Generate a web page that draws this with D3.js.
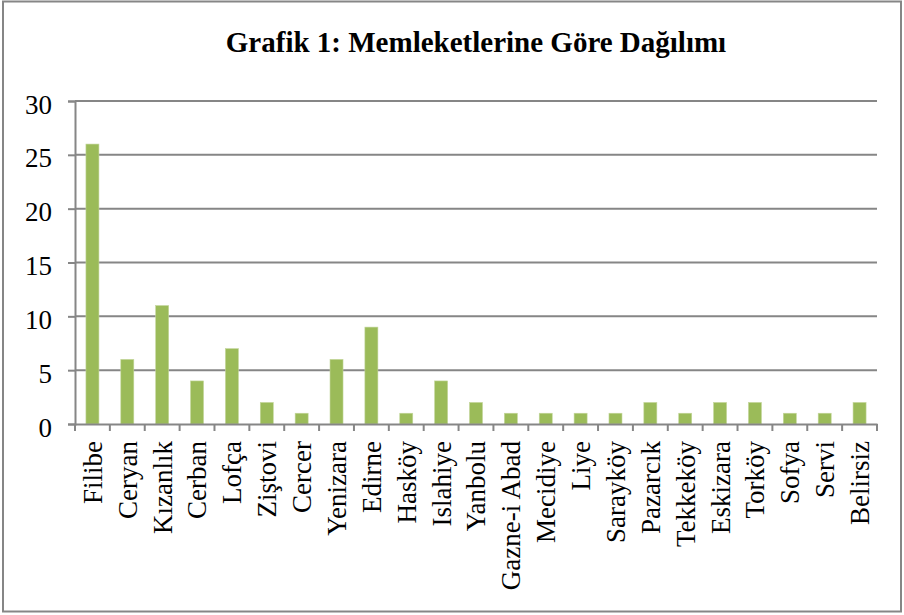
<!DOCTYPE html>
<html>
<head>
<meta charset="utf-8">
<script src="https://cdn.jsdelivr.net/npm/d3@7"></script>
<style>
  body { margin: 0; background: #fff; }
  svg { display: block; }
  text { font-family: "Liberation Serif", "Times New Roman", serif; fill: #000; }
</style>
</head>
<body>
<svg id="chart" width="904" height="615"></svg>
<script>
// Memleketlerine göre dağılım
var categories = ['Filibe', 'Ceryan', 'Kızanlık', 'Cerban', 'Lofça', 'Ziştovi', 'Cercer', 'Yenizara',
    'Edirne', 'Hasköy', 'Islahiye', 'Yanbolu', 'Gazne-i Abad', 'Mecidiye', 'Liye', 'Sarayköy',
    'Pazarcık', 'Tekkeköy', 'Eskizara', 'Torköy', 'Sofya', 'Servi', 'Belirsiz'];
var values = [26, 6, 11, 4, 7, 2, 1, 6, 9, 1, 4, 2, 1, 1, 1, 1, 2, 1, 2, 2, 1, 1, 2];
var yTicks = [0, 5, 10, 15, 20, 25, 30];
var title = 'Grafik 1: Memleketlerine Göre Dağılımı';

var svg = d3.select('#chart');
var W = 904, H = 615;
var margin = { top: 101, right: 27, bottom: 191, left: 75 };
var width = W - margin.left - margin.right,
    height = H - margin.top - margin.bottom;

// outer frame
svg.append('rect')
    .attr('x', 3).attr('y', 1.5)
    .attr('width', W - 6).attr('height', H - 5)
    .attr('fill', '#fff')
    .attr('stroke', '#868686')
    .attr('stroke-width', 2);

svg.append('text')
    .attr('x', 476).attr('y', 52)
    .attr('text-anchor', 'middle')
    .style('font-size', '29px')
    .style('font-weight', 'bold')
    .text(title);

var g = svg.append('g')
    .attr('transform', 'translate(' + margin.left + ',' + margin.top + ')');

var x = d3.scaleBand().domain(categories).range([0, width]).paddingInner(0).paddingOuter(0);
var y = d3.scaleLinear().domain([0, 30]).range([height, 0]);

// gridlines
g.selectAll('.grid')
    .data(yTicks.filter(function (d) { return d > 0; }))
    .enter().append('line')
    .attr('x1', 0).attr('x2', width)
    .attr('y1', function (d) { return y(d); })
    .attr('y2', function (d) { return y(d); })
    .attr('stroke', '#868686')
    .attr('stroke-width', 2);

// y axis
var yAxis = g.append('g')
    .call(d3.axisLeft(y).tickValues(yTicks).tickSize(7).tickPadding(16));
yAxis.selectAll('path, line').attr('stroke', '#868686').attr('stroke-width', 2);
yAxis.selectAll('text')
    .style('font-size', '27px')
    .style('font-family', '"Liberation Serif", serif')
    .attr('fill', '#000')
    .attr('dy', '0.45em');

// bars
var barW = 13;
g.selectAll('.bar')
    .data(values)
    .enter().append('rect')
    .attr('x', function (d, i) { return x(categories[i]) + x.bandwidth() / 2 - barW / 2; })
    .attr('y', function (d) { return y(d); })
    .attr('width', barW)
    .attr('height', function (d) { return height - y(d); })
    .attr('fill', '#9BBB59')
    .attr('stroke', '#c3d69b')
    .attr('stroke-width', 0.6);

// x axis
var xAxis = g.append('g')
    .attr('transform', 'translate(0,' + height + ')')
    .call(d3.axisBottom(x).tickSize(0).tickSizeOuter(0));
xAxis.select('.domain').attr('stroke', '#868686').attr('stroke-width', 2);
xAxis.selectAll('.tick line').remove();
// ticks between categories
xAxis.selectAll('.sep')
    .data(d3.range(categories.length + 1))
    .enter().append('line')
    .attr('x1', function (i) { return i * x.step(); })
    .attr('x2', function (i) { return i * x.step(); })
    .attr('y1', 0).attr('y2', 7)
    .attr('stroke', '#868686')
    .attr('stroke-width', 2);
xAxis.selectAll('.tick text')
    .style('font-size', '27px')
    .style('font-family', '"Liberation Serif", serif')
    .attr('fill', '#000')
    .attr('text-anchor', 'end')
    .attr('transform', 'rotate(-90)')
    .attr('x', -17)
    .attr('y', 0)
    .attr('dy', '0.35em');
</script>
</body>
</html>
